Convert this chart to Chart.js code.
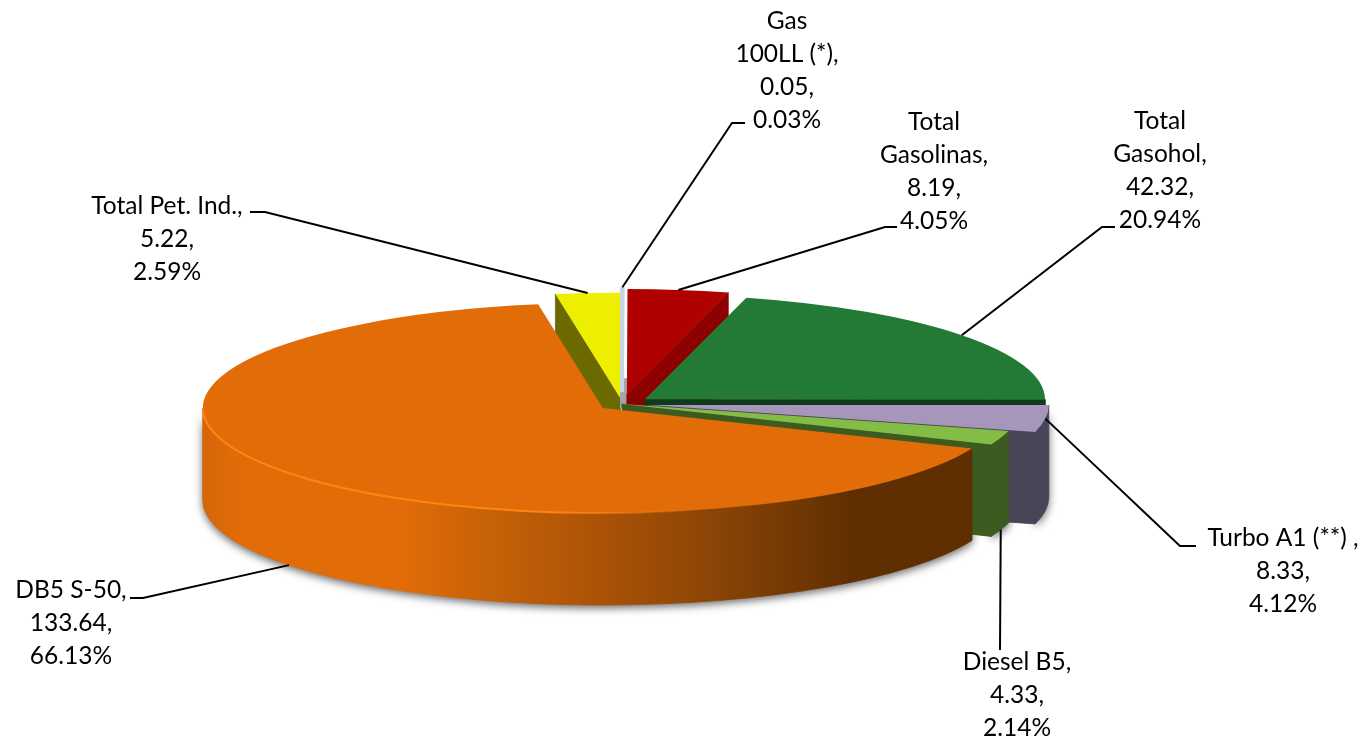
<!DOCTYPE html>
<html lang="en">
<head>
    <meta charset="UTF-8">
    <title>Fuel Share 3D Pie</title>
    <script src="https://cdn.jsdelivr.net/npm/chart.js"></script>
    <style>
        body { margin: 0; padding: 0; background-color: #fff; overflow: hidden; }
        canvas { display: block; }
    </style>
</head>
<body>
    <canvas id="pie-chart" width="1370" height="743"></canvas>

    <script>
        // Data
        const categories = ['Gas 100LL (*)', 'Total Gasolinas', 'Total Gasohol', 'Turbo A1 (**)', 'Diesel B5', 'DB5 S-50', 'Total Pet. Ind.'];
        const values = [0.05, 8.19, 42.32, 8.33, 4.33, 133.64, 5.22];
        const percents = ['0.03%', '4.05%', '20.94%', '4.12%', '2.14%', '66.13%', '2.59%'];
        const nameLines = [['Gas', '100LL (*),'], ['Total', 'Gasolinas,'], ['Total', 'Gasohol,'], ['Turbo A1 (**) ,'], ['Diesel B5,'], ['DB5 S-50,'], ['Total Pet. Ind.,']];

        // Colours
        const topColors = ['#c5d5e8', '#b00000', '#237a35', '#a596ba', '#84bd46', '#e26c08', '#eeee00'];
        const wallColors = ['#a3a3a8', '#8c0000', '#0f3a1c', '#4a4458', '#3d5a20', '#e26c08', '#6b6a00'];

        // Pie projection: circle of radius R flattened into an ellipse
        const R = 300;
        const pieX = 622, pieY = 404, rimX = 400, rimY = 105, depth = 92;
        const sx = rimX / R, sy = rimY / R;
        const explodePx = [45, 38, 29, 27, 0, 24.5, 24];
        const paintOrder = [6, 0, 1, 2, 3, 4, 5];

        // Label placement: centre x, first line y, and the leader's fixed points
        const labelBoxes = [
            { x: 787, y: 21, leader: [[745, 123], [732, 123]], drop: false },
            { x: 934, y: 122, leader: [[897, 227], [885, 227]], drop: false },
            { x: 1160, y: 121, leader: [[1115, 227], [1102, 227]], drop: false },
            { x: 1283, y: 538, leader: [[1196, 546], [1180, 546]], drop: false },
            { x: 1017, y: 662, leader: [[1000, 650]], drop: true },
            { x: 71, y: 590, leader: [[130, 598], [143, 598]], drop: true },
            { x: 167, y: 206, leader: [[250, 212], [265, 212]], drop: false }
        ];
        const lineHeight = 33;

        function slicePoint(el, angle, radius) {
            return {
                x: pieX + sx * (el.ex + Math.cos(angle) * radius),
                y: pieY + sy * (el.ey + Math.sin(angle) * radius)
            };
        }

        function outerWallPath(ctx, el) {
            const a0 = Math.max(el.startAngle, 0);
            const a1 = Math.min(el.endAngle, Math.PI);
            if (a1 <= a0) return false;
            const c = slicePoint(el, 0, 0);
            ctx.beginPath();
            ctx.ellipse(c.x, c.y, rimX, rimY, 0, a0, a1);
            ctx.ellipse(c.x, c.y + depth, rimX, rimY, 0, a1, a0, true);
            ctx.closePath();
            return true;
        }

        function radialFace(ctx, el, angle) {
            const c = slicePoint(el, 0, 0);
            const p = slicePoint(el, angle, R);
            ctx.beginPath();
            ctx.moveTo(c.x, c.y);
            ctx.lineTo(p.x, p.y);
            ctx.lineTo(p.x, p.y + depth);
            ctx.lineTo(c.x, c.y + depth);
            ctx.closePath();
            ctx.fill();
            ctx.stroke();
        }

        function orangeWallFill(ctx) {
            const g = ctx.createLinearGradient(203, 0, 975, 0);
            g.addColorStop(0, '#d56507');
            g.addColorStop(0.05, '#e26c08');
            g.addColorStop(0.255, '#e26c08');
            g.addColorStop(0.385, '#c46008');
            g.addColorStop(0.515, '#ab5206');
            g.addColorStop(0.645, '#8f4606');
            g.addColorStop(0.775, '#703703');
            g.addColorStop(0.84, '#5f2f02');
            g.addColorStop(1, '#5f2f02');
            return g;
        }

        const pie3dPlugin = {
            id: 'pie3d',
            afterDatasetsUpdate(chart) {
                // pull the slices apart by moving each arc's own centre
                chart.getDatasetMeta(0).data.forEach((el, i) => {
                    const half = (el.startAngle + el.endAngle) / 2;
                    el.ex = Math.cos(half) * explodePx[i] / sx;
                    el.ey = Math.sin(half) * explodePx[i] / sx;
                    el.x += el.ex;
                    el.y += el.ey;
                });
            },
            beforeDatasetsDraw(chart) {
                const ctx = chart.ctx;
                const arcs = chart.getDatasetMeta(0).data;

                // soft shadow under the outer walls
                ctx.save();
                ctx.shadowColor = 'rgba(0, 0, 0, 0.6)';
                ctx.shadowBlur = 8;
                ctx.shadowOffsetY = 3;
                ctx.fillStyle = '#888';
                arcs.forEach(el => {
                    if (outerWallPath(ctx, el)) ctx.fill();
                });
                ctx.restore();

                // walls, back to front
                ctx.save();
                ctx.lineWidth = 0.8;
                paintOrder.forEach(i => {
                    const el = arcs[i];
                    const wallFill = i === 5 ? orangeWallFill(ctx) : wallColors[i];
                    ctx.fillStyle = wallFill;
                    ctx.strokeStyle = wallFill;
                    if (Math.cos(el.endAngle) > 0 && i !== 0) radialFace(ctx, el, el.endAngle);
                    if (Math.cos(el.startAngle) < 0) radialFace(ctx, el, el.startAngle);
                    if (outerWallPath(ctx, el)) {
                        ctx.fill();
                        ctx.stroke();
                    }
                    if (i === 0) {
                        // grey sliver left showing below the thin slice
                        const c = slicePoint(el, 0, 0);
                        ctx.fillRect(c.x - 2, c.y - 14, 7, 30);
                    }
                });
                ctx.restore();

                // flatten the tops drawn by the library onto the same ellipse
                ctx.save();
                ctx.transform(sx, 0, 0, sy, pieX - sx * chart.width / 2, pieY - sy * chart.height / 2);
            },
            afterDatasetsDraw(chart) {
                const ctx = chart.ctx;
                ctx.restore();
                const arcs = chart.getDatasetMeta(0).data;

                // lit edge along the front of the big slice, fading to the right
                const big = arcs[5];
                const c = slicePoint(big, 0, 0);
                const edge = ctx.createLinearGradient(203, 0, 700, 0);
                edge.addColorStop(0, '#ff8410');
                edge.addColorStop(0.7, '#ff8410');
                edge.addColorStop(1, 'rgba(255, 132, 16, 0)');
                ctx.save();
                ctx.strokeStyle = edge;
                ctx.lineWidth = 2;
                ctx.beginPath();
                ctx.ellipse(c.x, c.y, rimX, rimY, 0, Math.max(big.startAngle, 0.3), Math.PI);
                ctx.stroke();
                ctx.restore();

                // leaders
                ctx.strokeStyle = '#000';
                ctx.lineWidth = 2;
                labelBoxes.forEach((box, i) => {
                    const el = arcs[i];
                    const p = slicePoint(el, (el.startAngle + el.endAngle) / 2, R);
                    ctx.beginPath();
                    box.leader.forEach((pt, k) => k ? ctx.lineTo(pt[0], pt[1]) : ctx.moveTo(pt[0], pt[1]));
                    ctx.lineTo(p.x, p.y + (box.drop ? depth : 0));
                    ctx.stroke();
                });

                // labels
                ctx.fillStyle = '#000';
                ctx.font = '24.5px Lato';
                ctx.textAlign = 'center';
                ctx.textBaseline = 'middle';
                labelBoxes.forEach((box, i) => {
                    const lines = nameLines[i].concat([values[i].toFixed(2) + ',', percents[i]]);
                    lines.forEach((t, k) => ctx.fillText(t, box.x, box.y + k * lineHeight));
                });
            }
        };

        new Chart(document.getElementById('pie-chart'), {
            type: 'pie',
            data: {
                labels: categories,
                datasets: [{
                    data: values,
                    backgroundColor: topColors,
                    borderWidth: [3, 0, 0, 0, 0, 0, 0],
                    borderColor: topColors,
                    clip: false
                }]
            },
            options: {
                responsive: false,
                animation: false,
                radius: R,
                layout: { padding: 0 },
                plugins: { legend: { display: false }, tooltip: { enabled: false } }
            },
            plugins: [pie3dPlugin]
        });
    </script>
</body>
</html>
